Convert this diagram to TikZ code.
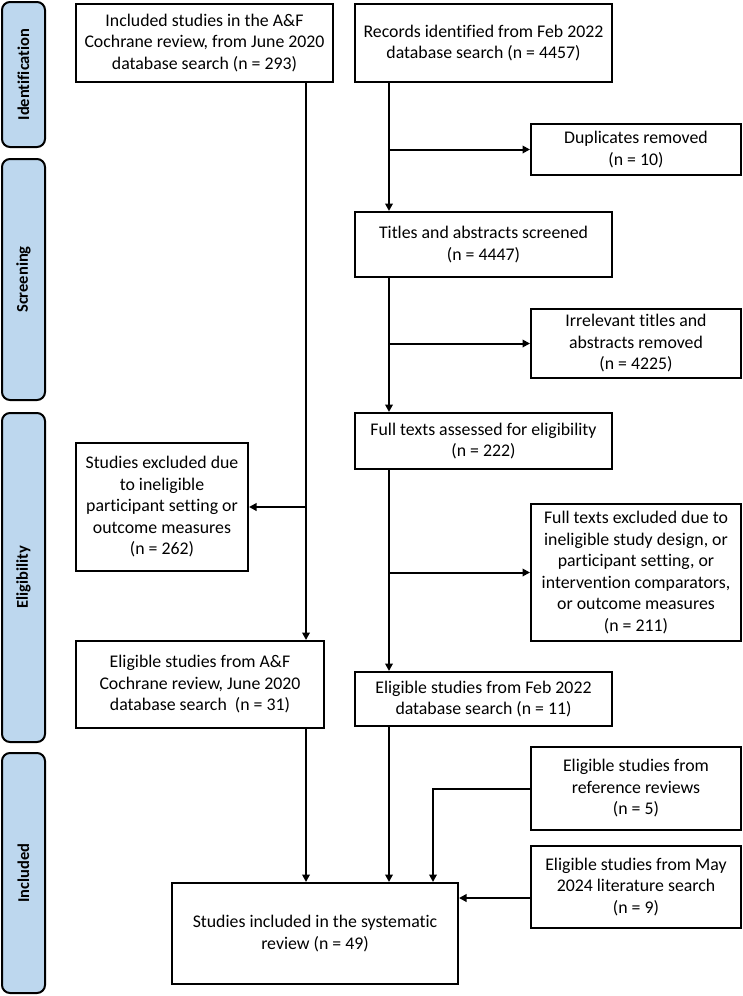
\documentclass[tikz,border=0pt]{standalone}
\usepackage{fontspec}
\setmainfont{Carlito}[Ligatures=NoCommon]
\usetikzlibrary{arrows.meta}
\definecolor{sidefill}{RGB}{189,215,238}
\newcommand\bx[6]{\node[box,minimum width=#4pt,minimum height=#5pt] (#1) at (#2,#3) {#6};}
\newcommand\sidelab[5]{\node[side,minimum width=43pt,minimum height=#4pt] (#1) at (23.5,#3) {\rotatebox{90}{#5}};}
\begin{document}
\begin{tikzpicture}[x=1pt,y=-1pt,
  box/.style={draw,line width=2pt,align=center,inner sep=0pt,font=\fontsize{17.8}{21.5}\selectfont},
  arr/.style={line width=2pt,-{Triangle[length=7.5pt,width=7.5pt]}},
  side/.style={draw,line width=2pt,fill=sidefill,rounded corners=8pt,inner sep=0pt,font=\fontsize{16.5}{19}\selectfont\bfseries}]
\useasboundingbox (0,0) rectangle (742,996);
% side labels
\sidelab{s1}{}{74.5}{145}{Identification}
\sidelab{s2}{}{279.5}{241}{Screening}
\sidelab{s3}{}{577.5}{329}{Eligibility}
\sidelab{s4}{}{873}{240}{Included}
% boxes
\bx{A}{204.5}{43}{257}{78}{Included studies in the A\&F\\Cochrane review, from June 2020\\database search (n = 293)}
\bx{R}{483.5}{43}{257}{78}{Records identified from Feb 2022\\database search (n = 4457)}
\bx{D}{636}{149.5}{210}{51}{Duplicates removed\\(n = 10)}
\bx{T}{483.5}{244.5}{257}{65}{Titles and abstracts screened\\(n = 4447)}
\bx{I}{636}{343.5}{210}{69}{Irrelevant titles and\\abstracts removed\\(n = 4225)}
\bx{F}{483.5}{441}{257}{56}{Full texts assessed for eligibility\\(n = 222)}
\bx{SE}{162}{507}{172}{128}{Studies excluded due\\to ineligible\\participant setting or\\outcome measures\\(n = 262)}
\bx{FE}{636}{572.5}{210}{137}{Full texts excluded due to\\ineligible study design, or\\participant setting, or\\intervention comparators,\\or outcome measures\\(n = 211)}
\bx{EA}{200}{684.5}{248}{87}{Eligible studies from A\&F\\Cochrane review, June 2020\\database search\ \ (n = 31)}
\bx{EF}{483.5}{699}{257}{54}{Eligible studies from Feb 2022\\database search (n = 11)}
\bx{RR}{636}{788.5}{210}{83}{Eligible studies from\\reference reviews\\(n = 5)}
\bx{M}{636}{887}{210}{82}{Eligible studies from May\\2024 literature search\\(n = 9)}
\bx{S}{315}{933.5}{286}{101}{Studies included in the systematic\\review (n = 49)}
% column coordinates
\coordinate (cl) at (306,0);
\coordinate (cr) at (389,0);
\coordinate (c3) at (433,0);
% left column
\draw[arr] (A.south -| cl) -- (EA.north -| cl);
\draw[arr] (cl |- SE.east) -- (SE.east);
\draw[arr] (EA.south -| cl) -- (S.north -| cl);
% right column
\draw[arr] (R.south -| cr) -- (T.north -| cr);
\draw[arr] (cr |- D.west) -- (D.west);
\draw[arr] (T.south -| cr) -- (F.north -| cr);
\draw[arr] (cr |- I.west) -- (I.west);
\draw[arr] (F.south -| cr) -- (EF.north -| cr);
\draw[arr] (cr |- FE.west) -- (FE.west);
\draw[arr] (EF.south -| cr) -- (S.north -| cr);
% additional sources
\draw[arr] (RR.west) -| (S.north -| c3);
\draw[arr] ([yshift=-11pt]M.west) -- ([yshift=-11pt]M.west -| S.east);
\end{tikzpicture}
\end{document}
